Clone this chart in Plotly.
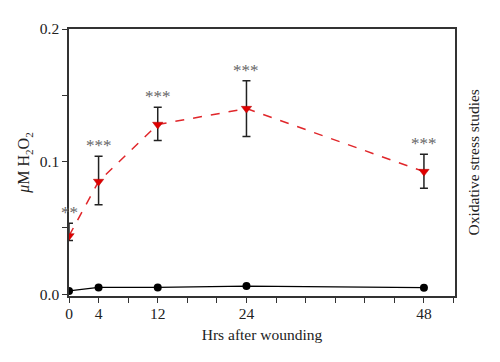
import plotly.graph_objects as go

hours = [0, 4, 12, 24, 48]
wounded = [0.044, 0.085, 0.128, 0.140, 0.0925]
wounded_err_plus = [0.0095, 0.019, 0.013, 0.021, 0.013]
wounded_err_minus = [0.0035, 0.0175, 0.012, 0.021, 0.0125]
control = [0.0025, 0.0052, 0.0052, 0.0062, 0.005]
stars = ["**", "***", "***", "***", "***"]
labeled_x = [0, 4, 12, 24, 48]
tick_vals_y = [0, 0.1, 0.2]
tick_text_y = ["0.0", "0.1", "0.2"]

FONT = "Liberation Serif"
AX = "#333333"

# page has an 8px body margin; margins below are chosen so the plot area lands
# where the reference has it
ML, MR, MT, MB = 61, 53, 18, 74
W, H = 500, 362

fig = go.Figure()
fig.add_trace(go.Scatter(
    x=hours, y=control, mode="lines+markers",
    line=dict(color="black", width=1.3),
    marker=dict(symbol="circle", size=8, color="black"),
    showlegend=False,
))
fig.add_trace(go.Scatter(
    x=hours, y=wounded, mode="lines+markers",
    line=dict(color="#e0262a", width=1.5, dash="dash"),
    marker=dict(symbol="triangle-down", size=9, color="#e00000",
                line=dict(color="#b00000", width=0.5)),
    error_y=dict(type="data", symmetric=False, array=wounded_err_plus,
                 arrayminus=wounded_err_minus, color="#222222",
                 thickness=1.5, width=4),
    showlegend=False,
))

annotations = []
for h, v, e, s in zip(hours, wounded, wounded_err_plus, stars):
    annotations.append(dict(
        x=h, y=v + e, xref="x", yref="y", text=s, showarrow=False,
        yanchor="bottom", yshift=-1,
        font=dict(family=FONT, size=17, color="#666666"),
    ))
pw, ph = W - ML - MR, H - MT - MB
annotations.append(dict(
    x=(465 - ML) / pw, y=(H - MB - 153) / ph, xref="paper", yref="paper",
    text="Oxidative stress studies",
    showarrow=False, textangle=-90, xanchor="center", yanchor="middle",
    font=dict(family=FONT, size=15.5, color="#222222"),
))

fig.update_layout(
    width=W, height=H,
    margin=dict(l=ML, r=MR, t=MT, b=MB),
    paper_bgcolor="white", plot_bgcolor="white",
    font=dict(family=FONT, size=15.5, color="#222222"),
    annotations=annotations,
    xaxis=dict(
        range=[0, 52.2], tickmode="array", tickvals=labeled_x,
        ticktext=[str(v) for v in labeled_x],
        ticks="outside", ticklen=5, tickwidth=1.3, tickcolor=AX,
        ticklabelstandoff=-2,
        minor=dict(dtick=4, tick0=0, ticks="outside", ticklen=5,
                   tickwidth=1.3, tickcolor=AX, showgrid=False),
        showline=True, linecolor=AX, linewidth=1.5, mirror=True,
        showgrid=False, zeroline=False,
        title=dict(text="Hrs after wounding", font=dict(family=FONT, size=15.5), standoff=8),
        tickfont=dict(family=FONT, size=15.5),
    ),
    yaxis=dict(
        range=[-0.0013, 0.2], tickmode="array", tickvals=tick_vals_y,
        ticktext=tick_text_y,
        ticks="outside", ticklen=5, tickwidth=1.3, tickcolor=AX,
        minor=dict(dtick=0.05, tick0=0, ticks="outside", ticklen=5,
                   tickwidth=1.3, tickcolor=AX, showgrid=False),
        showline=True, linecolor=AX, linewidth=1.5, mirror=True,
        showgrid=False, zeroline=False,
        title=dict(text="<i>μ</i>M H<sub>2</sub>O<sub>2</sub>",
                   font=dict(family=FONT, size=16), standoff=6),
        tickfont=dict(family=FONT, size=15.5),
    ),
)

fig.write_html("out.html")
